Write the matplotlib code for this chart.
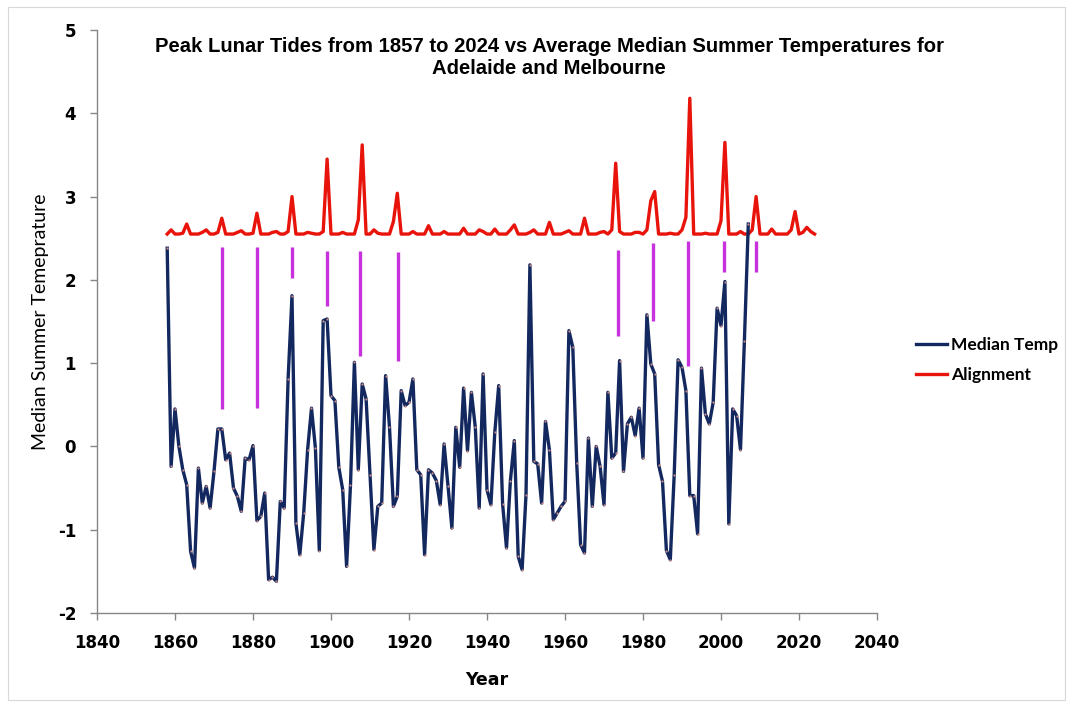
import numpy as np
import matplotlib.pyplot as plt
from matplotlib.lines import Line2D
from matplotlib.patches import Rectangle

plt.rcParams["axes.unicode_minus"] = False

# Median summer temperature anomaly, one value a year from 1858 to 2007
temp_years = list(range(1858, 2008))
median_temp = [
    2.38, -0.24, 0.45, 0.00, -0.28, -0.46, -1.26, -1.46, -0.26, -0.68,   # 1858-1867
    -0.48, -0.74, -0.30, 0.21, 0.21, -0.16, -0.08, -0.50, -0.60, -0.78,  # 1868-1877
    -0.14, -0.16, 0.01, -0.89, -0.84, -0.56, -1.60, -1.57, -1.62, -0.66, # 1878-1887
    -0.74, 0.81, 1.81, -0.92, -1.30, -0.80, -0.04, 0.46, -0.02, -1.25,   # 1888-1897
    1.51, 1.53, 0.61, 0.55, -0.25, -0.52, -1.44, -0.46, 1.01, -0.28,     # 1898-1907
    0.75, 0.57, -0.34, -1.24, -0.72, -0.68, 0.85, 0.23, -0.72, -0.60,    # 1908-1917
    0.67, 0.49, 0.53, 0.81, -0.28, -0.34, -1.30, -0.28, -0.32, -0.41,    # 1918-1927
    -0.70, 0.03, -0.47, -0.98, 0.23, -0.25, 0.70, -0.05, 0.65, 0.23,     # 1928-1937
    -0.74, 0.87, -0.52, -0.70, 0.17, 0.73, -0.69, -1.22, -0.41, 0.07,    # 1938-1947
    -1.32, -1.48, -0.58, 2.18, -0.18, -0.21, -0.68, 0.30, -0.04, -0.88,  # 1948-1957
    -0.80, -0.72, -0.66, 1.39, 1.19, -0.20, -1.18, -1.28, 0.10, -0.72,   # 1958-1967
    0.00, -0.24, -0.70, 0.65, -0.14, -0.08, 1.03, -0.30, 0.27, 0.35,     # 1968-1977
    0.13, 0.46, -0.14, 1.58, 0.99, 0.87, -0.22, -0.42, -1.25, -1.36,     # 1978-1987
    -0.34, 1.04, 0.95, 0.67, -0.59, -0.59, -1.05, 0.94, 0.39, 0.27,      # 1988-1997
    0.53, 1.66, 1.45, 1.98, -0.93, 0.45, 0.37, -0.04, 1.27, 2.67,        # 1998-2007
]

# Lunar alignment index, one value a year from 1858 to 2024
align_years = list(range(1858, 2025))
alignment = [
    2.55, 2.60, 2.55, 2.55, 2.56, 2.67, 2.55, 2.55, 2.55, 2.57,   # 1858-1867
    2.60, 2.55, 2.55, 2.57, 2.74, 2.55, 2.55, 2.55, 2.57, 2.59,   # 1868-1877
    2.55, 2.55, 2.56, 2.80, 2.55, 2.55, 2.55, 2.57, 2.58, 2.55,   # 1878-1887
    2.55, 2.58, 3.00, 2.55, 2.55, 2.55, 2.57, 2.56, 2.55, 2.55,   # 1888-1897
    2.58, 3.45, 2.55, 2.55, 2.55, 2.57, 2.55, 2.55, 2.55, 2.72,   # 1898-1907
    3.62, 2.55, 2.55, 2.60, 2.56, 2.55, 2.55, 2.55, 2.70, 3.04,   # 1908-1917
    2.55, 2.55, 2.55, 2.58, 2.55, 2.55, 2.55, 2.65, 2.55, 2.55,   # 1918-1927
    2.55, 2.58, 2.55, 2.55, 2.55, 2.55, 2.62, 2.55, 2.55, 2.55,   # 1928-1937
    2.60, 2.58, 2.55, 2.55, 2.61, 2.55, 2.55, 2.55, 2.60, 2.66,   # 1938-1947
    2.55, 2.55, 2.55, 2.57, 2.60, 2.55, 2.55, 2.55, 2.69, 2.55,   # 1948-1957
    2.55, 2.55, 2.57, 2.59, 2.55, 2.55, 2.55, 2.74, 2.55, 2.55,   # 1958-1967
    2.55, 2.57, 2.58, 2.55, 2.60, 3.40, 2.58, 2.55, 2.55, 2.55,   # 1968-1977
    2.57, 2.57, 2.55, 2.60, 2.95, 3.06, 2.55, 2.55, 2.55, 2.56,   # 1978-1987
    2.55, 2.55, 2.60, 2.75, 4.18, 2.55, 2.55, 2.55, 2.56, 2.55,   # 1988-1997
    2.55, 2.55, 2.71, 3.65, 2.55, 2.55, 2.55, 2.58, 2.55, 2.55,   # 1998-2007
    2.60, 3.00, 2.55, 2.55, 2.55, 2.61, 2.55, 2.55, 2.55, 2.55,   # 2008-2017
    2.60, 2.82, 2.55, 2.57, 2.63, 2.58, 2.55,                     # 2018-2024
]

# magenta markers linking each tide peak to the temperature below it
marker_years = [1872, 1881, 1890, 1899, 1907.4, 1917.2, 1973.7, 1982.5, 1991.6, 2000.8, 2009.1]
marker_top = [2.39, 2.39, 2.39, 2.35, 2.35, 2.34, 2.36, 2.44, 2.47, 2.47, 2.47]
marker_bottom = [0.45, 0.46, 2.02, 1.69, 1.09, 1.03, 1.33, 1.51, 0.97, 2.10, 2.10]

NAVY = "#13285f"
RED = "#e8140c"
MAGENTA = "#c832dc"
GREY = "#868686"

W, H = 1073, 708
fig = plt.figure(figsize=(W / 100, H / 100), dpi=100)
fig.patches.append(Rectangle((8 / W, 8 / H), 1 - 16 / W, 1 - 15 / H, transform=fig.transFigure,
                             fill=False, edgecolor="#d8d8d8", linewidth=0.8))
ax = fig.add_axes([97 / W, 95 / H, 780 / W, 583 / H])

ax.vlines(marker_years, marker_bottom, marker_top, color=MAGENTA, linewidth=2.4, zorder=2)
ax.plot(align_years, alignment, color=RED, linewidth=2.4, zorder=3)
ax.plot(temp_years, median_temp, color=NAVY, linewidth=2.4, zorder=4,
        marker="o", markersize=1.6, markerfacecolor="#c98b86", markeredgecolor="none")

ax.set_xlim(1840, 2040)
ax.set_ylim(-2, 5)
ax.set_xticks(np.arange(1840, 2041, 20))
ax.set_yticks(np.arange(-2, 6, 1))
for side in ("top", "right"):
    ax.spines[side].set_visible(False)
for side in ("left", "bottom"):
    ax.spines[side].set_color(GREY)
    ax.spines[side].set_linewidth(1.0)
ax.tick_params(axis="both", direction="out", length=5, width=1, color=GREY,
               labelsize=12, pad=10)
for lab in ax.get_xticklabels() + ax.get_yticklabels():
    lab.set_fontweight("bold")

ax.set_xlabel("Year", fontsize=12.5, fontweight="bold", labelpad=14)
ax.set_ylabel("Median Summer Temeprature", family="Lato", fontsize=14, labelpad=6)

fig.text(549 / W, 1 - 57 / H,
         "Peak Lunar Tides from 1857 to 2024 vs Average Median Summer Temperatures for\nAdelaide and Melbourne",
         ha="center", va="center", fontsize=14.6, fontweight="bold",
         family=["Liberation Sans Narrow", "Liberation Sans"], linespacing=1.2)

handles = [Line2D([], [], color=NAVY, linewidth=2.4), Line2D([], [], color=RED, linewidth=2.4)]
fig.legend(handles, ["Median Temp", "Alignment"], loc="center left",
           bbox_to_anchor=(916 / W, 1 - 360 / H), frameon=False, borderpad=0,
           borderaxespad=0, prop={"family": "Lato", "weight": "bold", "size": 12.5},
           handlelength=1.8, handletextpad=0.2, labelspacing=0.8)

fig.savefig("out.png", dpi=100)
